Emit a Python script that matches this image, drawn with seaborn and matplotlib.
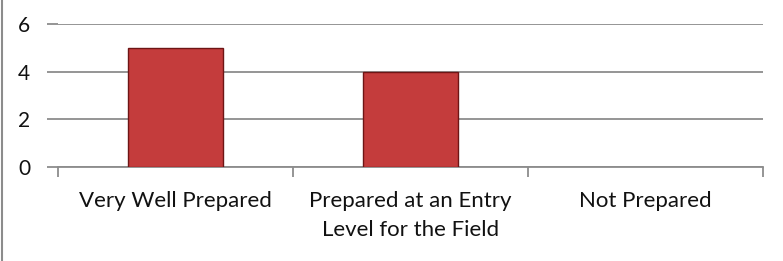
import matplotlib
matplotlib.use('Agg')
import matplotlib.pyplot as plt
import seaborn as sns
import pandas as pd
from matplotlib.lines import Line2D

categories = ['Very Well Prepared', 'Prepared at an Entry\nLevel for the Field', 'Not Prepared']
counts = [5, 4, 0]
yticks = [0, 2, 4, 6]

df = pd.DataFrame({'Category': categories, 'Count': counts})

sns.set_style('white')
plt.rcParams['font.family'] = ['Lato', 'DejaVu Sans']

fig = plt.figure(figsize=(7.83, 2.61), dpi=100)
ax = fig.add_axes([58 / 783, 1 - 167 / 261, (763 - 58) / 783, (167 - 24) / 261])

sns.barplot(x='Category', y='Count', data=df, order=categories, color='#C43C3C',
            width=0.405, edgecolor='#6E1515', linewidth=1.0, saturation=1, ax=ax, zorder=3)
# Excel draws nothing for a zero bar
for p in ax.patches:
    if p.get_height() == 0:
        p.set_linewidth(0)

grid_color = '#8C8C8C'
ax.set_ylim(0, 6)
ax.set_xlim(-0.5, 2.5)
ax.set_yticks(yticks)
ax.yaxis.grid(True, color=grid_color, linewidth=1.3)
ax.set_axisbelow(True)
for s in ['top', 'right', 'left']:
    ax.spines[s].set_visible(False)
ax.spines['bottom'].set_color(grid_color)
ax.spines['bottom'].set_linewidth(1.3)

ax.set_xticks([-0.5, 0.5, 1.5, 2.5], minor=False)
ax.set_xticklabels([])
ax.tick_params(axis='x', which='major', bottom=True, length=7, width=1.3,
               color=grid_color, direction='out')
ax.set_xticks([0, 1, 2], minor=True)
ax.set_xticklabels(categories, minor=True, fontsize=16, color='#111111', linespacing=1.6)
ax.tick_params(axis='x', which='minor', bottom=True, length=0, pad=17)
for lbl in ax.get_xticklabels(minor=True):
    lbl.set_verticalalignment('top')

ax.tick_params(axis='y', which='major', left=True, length=8, width=1.3, color=grid_color,
               direction='out', labelsize=15, labelcolor='#111111', pad=12)
ax.set_xlabel('')
ax.set_ylabel('')

fig.add_artist(Line2D([1.5 / 783, 1.5 / 783], [0, 1], color='#8C8C8C', linewidth=1.5))

fig.savefig('out.png', dpi=100)
